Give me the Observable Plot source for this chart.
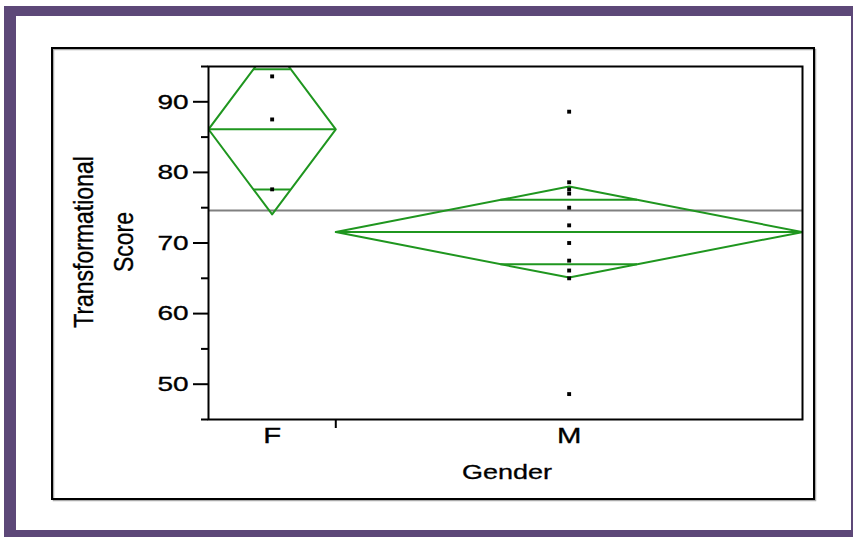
<!DOCTYPE html>
<html><head><meta charset="utf-8">
<script src="https://cdn.jsdelivr.net/npm/d3@7"></script>
<script src="https://cdn.jsdelivr.net/npm/@observablehq/plot@0.6"></script>
<style>body{margin:0;background:#fff}#chart{width:853px;height:537px}</style>
</head><body><div id="chart"></div>
<script>
// ---- data ----
const groups = ["F", "M"];
const counts = [3, 11];
const means = [86.1, 71.55];
const ciHalf = [12.05, 6.45];
const grandMean = 74.6;
const scoresF = [93.6, 87.5, 77.6];
const scoresM = [88.6, 78.6, 77.6, 77.0, 75.0, 72.5, 70.0, 67.5, 66.1, 65.0, 48.6];
const yMajorTicks = [50, 60, 70, 80, 90];
const yMinorTicks = [45, 55, 65, 75, 85, 95];
const xLabel = "Gender";
const yLabelLines = ["Transformational", "Score"];

const green = "#1f961f";
const purple = "#5d4878";
const font = "'Liberation Sans', Arial, Helvetica, sans-serif";

// group extents along x (widths proportional to counts)
const total = d3.sum(counts);
const starts = counts.map((c, i) => d3.sum(counts.slice(0, i)));
const ends = starts.map((s, i) => s + counts[i]);
const centers = starts.map((s, i) => s + counts[i] / 2);
const scores = [scoresF, scoresM];

const diamondPts = groups.flatMap((g, i) => [
  {g, x: starts[i], y: means[i]},
  {g, x: centers[i], y: means[i] + ciHalf[i]},
  {g, x: ends[i], y: means[i]},
  {g, x: centers[i], y: means[i] - ciHalf[i]},
  {g, x: starts[i], y: means[i]}
]);
const meanRules = groups.map((g, i) => ({x1: starts[i], x2: ends[i], y: means[i]}));
const k = 1 / Math.SQRT2;
const overlapRules = groups.flatMap((g, i) => {
  const hw = counts[i] / 2 * (1 - k);
  return [+1, -1].map(s => ({x1: centers[i] - hw, x2: centers[i] + hw, y: means[i] + s * ciHalf[i] * k}));
});
const dots = groups.flatMap((g, i) => scores[i].map(v => ({x: centers[i], y: v})));
const labelMap = new Map(centers.map((c, i) => [c, groups[i]]));

const plot = Plot.plot({
  width: 853, height: 537,
  marginLeft: 208, marginRight: 51, marginTop: 66, marginBottom: 118,
  x: {domain: [0, total], axis: null},
  y: {domain: [45, 95], axis: null},
  style: {fontFamily: font, fontSize: "21px", color: "black", background: "transparent", overflow: "visible"},
  marks: [
    Plot.ruleY([grandMean], {stroke: "#808080", strokeWidth: 2}),
    Plot.line(diamondPts, {x: "x", y: "y", z: "g", stroke: green, strokeWidth: 2, clip: true}),
    Plot.ruleY(meanRules, {x1: "x1", x2: "x2", y: "y", stroke: green, strokeWidth: 2}),
    Plot.ruleY(overlapRules, {x1: "x1", x2: "x2", y: "y", stroke: green, strokeWidth: 2, clip: true}),
    Plot.dot(dots, {x: "x", y: "y", symbol: "square", r: 2.2, fill: "black", stroke: null}),
    Plot.axisY(yMajorTicks, {tickSize: 15, tickPadding: 5, strokeWidth: 2, label: null, fontSize: 21}),
    Plot.axisY(yMinorTicks, {tickSize: 7, strokeWidth: 2, tickFormat: () => "", label: null}),
    Plot.axisX(centers, {tickSize: 0, tickPadding: 8, tickFormat: d => labelMap.get(d), label: null, fontSize: 22}),
    Plot.axisX(starts.slice(1), {tickSize: 9, strokeWidth: 2, tickFormat: () => "", label: null}),
    Plot.frame({stroke: "black", strokeWidth: 2})
  ]
});
document.getElementById("chart").appendChild(plot);

// stretch horizontal tick labels to match reference's wide glyphs
d3.select(plot).selectAll("text").each(function() {
  const t = this;
  if (!t.textContent) return;
  const len = t.getComputedTextLength();
  t.setAttribute("textLength", (len * 1.33).toFixed(1));
  t.setAttribute("lengthAdjust", "spacingAndGlyphs");
  t.setAttribute("stroke", "black");
  t.setAttribute("stroke-width", "0.35");
});

// decorations: purple frame and outer box
const svg = d3.select(plot);
const bg = svg.insert("g", ":first-child");
bg.append("rect").attr("x", 4).attr("y", 6).attr("width", 849).attr("height", 531).attr("fill", purple);
bg.append("rect").attr("x", 16).attr("y", 16).attr("width", 835).attr("height", 514).attr("fill", "white");
bg.append("rect").attr("x", 53.5).attr("y", 49.5).attr("width", 762).attr("height", 451)
  .attr("fill", "none").attr("stroke", "#aaa").attr("stroke-width", 1.5);
bg.append("rect").attr("x", 52).attr("y", 48).attr("width", 762).attr("height", 451)
  .attr("fill", "none").attr("stroke", "black").attr("stroke-width", 2);

// axis titles
svg.append("text").attr("transform", "translate(507,479) scale(1.35,1)")
  .attr("text-anchor", "middle").attr("font-family", font).attr("font-size", 20).attr("fill", "black")
  .attr("stroke", "black").attr("stroke-width", 0.3)
  .text(xLabel);
[93, 133].forEach((x, i) => {
  svg.append("text").attr("transform", `translate(${x},242) scale(1.2,1) rotate(-90)`)
    .attr("text-anchor", "middle").attr("font-family", font).attr("font-size", 23).attr("fill", "black")
    .attr("stroke", "black").attr("stroke-width", 0.3)
    .text(yLabelLines[i]);
});
</script>
</body></html>
